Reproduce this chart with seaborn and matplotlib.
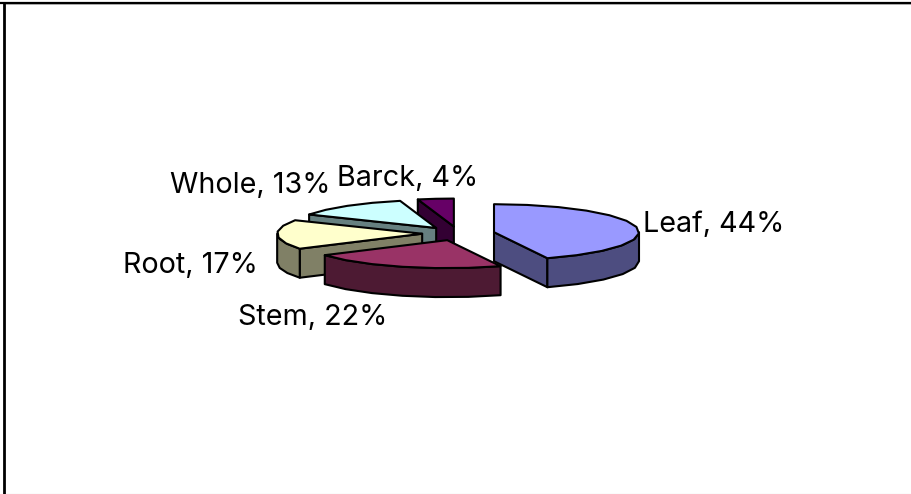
import numpy as np
import matplotlib
matplotlib.use("Agg")
import matplotlib.pyplot as plt
import seaborn as sns

# Share of samples per plant part, clockwise from twelve o'clock
parts = ["Leaf", "Stem", "Root", "Whole", "Barck"]
shares = [44, 22, 17, 13, 4]
top_colors = ["#9999FF", "#993366", "#FFFFCC", "#CCFFFF", "#660066"]

sns.set_theme(style="white")
plt.rcParams["font.family"] = ["Inter", "DejaVu Sans"]

W, H = 911, 494
fig = plt.figure(figsize=(W / 100, H / 100), dpi=100, facecolor="white")
ax = fig.add_axes([0, 0, 1, 1])
ax.set_xlim(0, W)
ax.set_ylim(H, 0)
ax.axis("off")

# Tilted pie projection, in pixels
CX, CY = 458.4, 233.5
RX, RY = 145.0, 28.0
DEPTH = 29.0
EXPLODE = 0.25
FACET = 14.0
EDGE = dict(edgecolor="black", linewidth=1.5, joinstyle="round")


def rim(angle, origin=(0.0, 0.0), scale=1.0):
    a = np.radians(angle)
    return origin[0] + scale * RX * np.sin(a), origin[1] - scale * RY * np.cos(a)


def arc(start, stop, origin):
    n = max(int(np.ceil((stop - start) / FACET)), 1)
    xs, ys = rim(np.linspace(start, stop, n + 1), origin)
    return np.asarray(xs), np.asarray(ys)


def radial_face(angle, apex, shade, order):
    px, py = rim(angle, apex)
    ax.fill([apex[0], px, px, apex[0]],
            [apex[1], py, py + DEPTH, apex[1] + DEPTH],
            facecolor=shade, zorder=order, **EDGE)


def draw_wedge(start, stop, color, order):
    mid = (start + stop) / 2
    apex = rim(mid, (CX, CY), EXPLODE)
    shade = tuple(c * 0.5 for c in color)
    # Faces that turn towards the viewer: cut sides first, then the outer wall
    if 180 < start < 360:
        radial_face(start, apex, shade, order)
    if 0 < stop < 180:
        radial_face(stop, apex, shade, order)
    lo, hi = max(start, 90), min(stop, 270)
    if lo < hi:
        xs, ys = arc(lo, hi, apex)
        ax.fill(np.r_[xs, xs[::-1]], np.r_[ys, ys[::-1] + DEPTH],
                facecolor=shade, zorder=order, **EDGE)
    xs, ys = arc(start, stop, apex)
    ax.fill(np.r_[apex[0], xs], np.r_[apex[1], ys],
            facecolor=color, zorder=order, **EDGE)


edges = np.r_[0, np.cumsum(shares)] * 3.6
palette = sns.color_palette(top_colors)

# Back slices are painted before the ones nearer the viewer
for i in [4, 3, 2, 1, 0]:
    draw_wedge(edges[i], edges[i + 1], palette[i], 5 - i)

# Data labels: anchor (left edge, baseline) per part
label_anchor = {
    "Leaf": (643, 232),
    "Stem": (238, 325),
    "Root": (123, 273),
    "Whole": (170, 193),
    "Barck": (337, 186),
}
for name, value in zip(parts, shares):
    x, y = label_anchor[name]
    ax.text(x, y, f"{name}, {value}%", fontsize=20.7, color="black",
            ha="left", va="baseline", zorder=10)

# Chart frame: heavy top and left rules, faint bottom rule
ax.plot([0, W], [3, 3], color="black", linewidth=1.6, solid_capstyle="butt", zorder=12)
ax.plot([5, W], [4.5, 4.5], color="#BBBBBB", linewidth=0.7, solid_capstyle="butt", zorder=11)
ax.plot([3.5, 3.5], [2, H], color="black", linewidth=2.0, solid_capstyle="butt", zorder=12)
ax.plot([5, W], [H - 0.5, H - 0.5], color="#C4C4C4", linewidth=0.8, solid_capstyle="butt", zorder=11)

fig.savefig("out.png", dpi=100, facecolor="white")
